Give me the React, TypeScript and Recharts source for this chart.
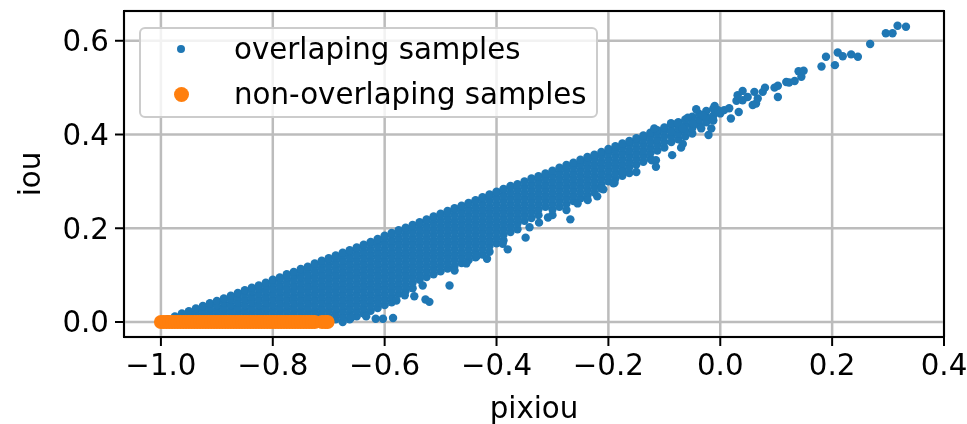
import { ScatterChart, Scatter, XAxis, YAxis, CartesianGrid, ReferenceArea, Legend } from "recharts";

const BLUE = "#1f77b4";
const ORANGE = "#ff7f0e";

const xTicks = [-1, -0.8, -0.6, -0.4, -0.2, 0, 0.2, 0.4];
const yTicks = [0, 0.2, 0.4, 0.6];
const xDomain = [-1.066, 0.4];
const yDomain = [-0.032, 0.6635];

const overlapColumns: number[][] = [
  [-0.9875, 0.006],
  [-0.975, 0, 0.012],
  [-0.9625, 0.006, 0.018],
  [-0.95, 0, 0.012, 0.023],
  [-0.9375, 0.006, 0.018, 0.029],
  [-0.925, 0, 0.012, 0.024, 0.034],
  [-0.9125, 0.006, 0.018, 0.03, 0.04],
  [-0.9, 0, 0.012, 0.024, 0.036, 0.045],
  [-0.8875, 0.006, 0.018, 0.03, 0.042, 0.05],
  [-0.875, 0, 0.012, 0.024, 0.036, 0.048, 0.056],
  [-0.8625, 0.006, 0.018, 0.03, 0.042, 0.054, 0.062],
  [-0.85, 0, 0.012, 0.024, 0.036, 0.048, 0.06, 0.068],
  [-0.8375, 0.006, 0.018, 0.03, 0.042, 0.054, 0.066, 0.073],
  [-0.825, 0, 0.012, 0.024, 0.036, 0.048, 0.06, 0.072, 0.078],
  [-0.8125, 0.006, 0.018, 0.03, 0.042, 0.054, 0.066, 0.078, 0.084],
  [-0.8, 0, 0.012, 0.024, 0.036, 0.048, 0.06, 0.072, 0.084, 0.09],
  [-0.7875, 0.006, 0.018, 0.03, 0.042, 0.054, 0.066, 0.078, 0.09, 0.095],
  [-0.775, 0, 0.012, 0.024, 0.036, 0.048, 0.06, 0.072, 0.084, 0.096, 0.102],
  [-0.7625, 0.006, 0.018, 0.03, 0.042, 0.054, 0.066, 0.078, 0.09, 0.102, 0.107],
  [-0.75, 0, 0.012, 0.024, 0.036, 0.048, 0.06, 0.072, 0.084, 0.096, 0.108, 0.113],
  [-0.7375, 0.006, 0.018, 0.03, 0.042, 0.054, 0.066, 0.078, 0.09, 0.102, 0.114, 0.118],
  [-0.725, 0, 0.012, 0.024, 0.036, 0.048, 0.06, 0.072, 0.084, 0.096, 0.108, 0.12, 0.125],
  [-0.7125, 0.006, 0.018, 0.03, 0.042, 0.054, 0.066, 0.078, 0.09, 0.102, 0.114, 0.126, 0.131],
  [-0.7, 0, 0.012, 0.024, 0.036, 0.048, 0.06, 0.072, 0.084, 0.096, 0.108, 0.12, 0.132, 0.136],
  [-0.6875, 0.006, 0.018, 0.03, 0.042, 0.054, 0.066, 0.078, 0.09, 0.102, 0.114, 0.126, 0.138, 0.142],
  [-0.675, 0, 0.012, 0.024, 0.036, 0.048, 0.06, 0.072, 0.084, 0.096, 0.108, 0.12, 0.132, 0.144, 0.148],
  [-0.6625, 0.006, 0.018, 0.03, 0.042, 0.054, 0.066, 0.078, 0.09, 0.102, 0.114, 0.126, 0.138, 0.15, 0.153],
  [-0.65, 0.012, 0.024, 0.036, 0.048, 0.06, 0.072, 0.084, 0.096, 0.108, 0.12, 0.132, 0.144, 0.156, 0.159],
  [-0.6375, 0.018, 0.03, 0.042, 0.054, 0.066, 0.078, 0.09, 0.102, 0.114, 0.126, 0.138, 0.15, 0.162, 0.165],
  [-0.625, 0.024, 0.036, 0.048, 0.06, 0.072, 0.084, 0.096, 0.108, 0.12, 0.132, 0.144, 0.156, 0.168, 0.171],
  [-0.6125, 0.03, 0.042, 0.054, 0.066, 0.078, 0.09, 0.102, 0.114, 0.126, 0.138, 0.15, 0.162, 0.174, 0.177],
  [-0.6, 0.036, 0.048, 0.06, 0.072, 0.084, 0.096, 0.108, 0.12, 0.132, 0.144, 0.156, 0.168, 0.18, 0.184],
  [-0.5875, 0.042, 0.054, 0.066, 0.078, 0.09, 0.102, 0.114, 0.126, 0.138, 0.15, 0.162, 0.174, 0.186, 0.19],
  [-0.575, 0.06, 0.072, 0.084, 0.096, 0.108, 0.12, 0.132, 0.144, 0.156, 0.168, 0.18, 0.192, 0.196],
  [-0.5625, 0.066, 0.078, 0.09, 0.102, 0.114, 0.126, 0.138, 0.15, 0.162, 0.174, 0.186, 0.198, 0.201],
  [-0.55, 0.072, 0.084, 0.096, 0.108, 0.12, 0.132, 0.144, 0.156, 0.168, 0.18, 0.192, 0.204, 0.207],
  [-0.5375, 0.09, 0.102, 0.114, 0.126, 0.138, 0.15, 0.162, 0.174, 0.186, 0.198, 0.21, 0.213],
  [-0.525, 0.096, 0.108, 0.12, 0.132, 0.144, 0.156, 0.168, 0.18, 0.192, 0.204, 0.216, 0.219],
  [-0.5125, 0.102, 0.114, 0.126, 0.138, 0.15, 0.162, 0.174, 0.186, 0.198, 0.21, 0.222, 0.225],
  [-0.5, 0.108, 0.12, 0.132, 0.144, 0.156, 0.168, 0.18, 0.192, 0.204, 0.216, 0.228, 0.231],
  [-0.4875, 0.114, 0.126, 0.138, 0.15, 0.162, 0.174, 0.186, 0.198, 0.21, 0.222, 0.234, 0.237],
  [-0.475, 0.12, 0.132, 0.144, 0.156, 0.168, 0.18, 0.192, 0.204, 0.216, 0.228, 0.24, 0.243],
  [-0.4625, 0.126, 0.138, 0.15, 0.162, 0.174, 0.186, 0.198, 0.21, 0.222, 0.234, 0.246, 0.248],
  [-0.45, 0.132, 0.144, 0.156, 0.168, 0.18, 0.192, 0.204, 0.216, 0.228, 0.24, 0.252, 0.254],
  [-0.4375, 0.138, 0.15, 0.162, 0.174, 0.186, 0.198, 0.21, 0.222, 0.234, 0.246, 0.258, 0.26],
  [-0.425, 0.144, 0.156, 0.168, 0.18, 0.192, 0.204, 0.216, 0.228, 0.24, 0.252, 0.264, 0.266],
  [-0.4125, 0.15, 0.162, 0.174, 0.186, 0.198, 0.21, 0.222, 0.234, 0.246, 0.258, 0.27, 0.272],
  [-0.4, 0.168, 0.18, 0.192, 0.204, 0.216, 0.228, 0.24, 0.252, 0.264, 0.276, 0.278],
  [-0.3875, 0.174, 0.186, 0.198, 0.21, 0.222, 0.234, 0.246, 0.258, 0.27, 0.282, 0.284],
  [-0.375, 0.192, 0.204, 0.216, 0.228, 0.24, 0.252, 0.264, 0.276, 0.288, 0.29],
  [-0.3625, 0.198, 0.21, 0.222, 0.234, 0.246, 0.258, 0.27, 0.282, 0.294],
  [-0.35, 0.216, 0.228, 0.24, 0.252, 0.264, 0.276, 0.288, 0.3],
  [-0.3375, 0.222, 0.234, 0.246, 0.258, 0.27, 0.282, 0.294, 0.306],
  [-0.325, 0.228, 0.24, 0.252, 0.264, 0.276, 0.288, 0.3, 0.311],
  [-0.3125, 0.246, 0.258, 0.27, 0.282, 0.294, 0.306, 0.317],
  [-0.3, 0.228, 0.24, 0.252, 0.264, 0.276, 0.288, 0.3, 0.312, 0.323],
  [-0.2875, 0.246, 0.258, 0.27, 0.282, 0.294, 0.306, 0.318, 0.329],
  [-0.275, 0.252, 0.264, 0.276, 0.288, 0.3, 0.312, 0.324, 0.335],
  [-0.2625, 0.258, 0.27, 0.282, 0.294, 0.306, 0.318, 0.33, 0.34],
  [-0.25, 0.264, 0.276, 0.288, 0.3, 0.312, 0.324, 0.336, 0.346],
  [-0.2375, 0.27, 0.282, 0.294, 0.306, 0.318, 0.33, 0.342, 0.352],
  [-0.225, 0.276, 0.288, 0.3, 0.312, 0.324, 0.336, 0.348, 0.357],
  [-0.2125, 0.294, 0.306, 0.318, 0.33, 0.342, 0.354, 0.363],
  [-0.2, 0.3, 0.312, 0.324, 0.336, 0.348, 0.36, 0.369],
  [-0.1875, 0.306, 0.318, 0.33, 0.342, 0.354, 0.366, 0.375],
  [-0.175, 0.312, 0.324, 0.336, 0.348, 0.36, 0.372, 0.381],
  [-0.1625, 0.318, 0.33, 0.342, 0.354, 0.366, 0.378, 0.386],
  [-0.15, 0.336, 0.348, 0.36, 0.372, 0.384, 0.392],
  [-0.1375, 0.342, 0.354, 0.366, 0.378, 0.39, 0.398],
  [-0.125, 0.348, 0.36, 0.372, 0.384, 0.396, 0.404],
  [-0.1125, 0.366, 0.378, 0.39, 0.402, 0.409],
  [-0.1, 0.372, 0.384, 0.396, 0.408, 0.415],
  [-0.0875, 0.384, 0.396, 0.408, 0.42],
  [-0.075, 0.39, 0.402, 0.414, 0.426],
  [-0.0625, 0.396, 0.408, 0.42, 0.432],
  [-0.05, 0.402, 0.414, 0.426, 0.438],
  [-0.0375, 0.42, 0.432, 0.444],
  [-0.025, 0.426, 0.438, 0.45],
  [-0.0125, 0.43, 0.44, 0.455],
];

// single dots that can be told apart along the lower edge
const overlapOutliers: number[][] = [
  [-0.66, 0.009], [-0.633, 0.012], [-0.616, 0.007], [-0.603, 0.007], [-0.585, 0.0085],
  [-0.579, 0.046], [-0.564, 0.057], [-0.547, 0.055], [-0.532, 0.078], [-0.527, 0.048],
  [-0.52, 0.043], [-0.484, 0.078], [-0.475, 0.11], [-0.454, 0.125], [-0.435, 0.141],
  [-0.417, 0.135], [-0.389, 0.167], [-0.38, 0.155], [-0.348, 0.18], [-0.341, 0.202],
  [-0.324, 0.212], [-0.308, 0.223], [-0.275, 0.239], [-0.268, 0.219], [-0.255, 0.253],
  [-0.237, 0.26], [-0.22, 0.268], [-0.209, 0.283], [-0.189, 0.297],
];

// upper right tail of the cloud
const overlapTail: number[][] = [
  [-0.213, 0.285], [-0.191, 0.296], [-0.175, 0.32], [-0.15, 0.32], [-0.122, 0.345],
  [-0.118, 0.413], [-0.115, 0.345], [-0.115, 0.331], [-0.088, 0.424], [-0.088, 0.406],
  [-0.086, 0.356], [-0.076, 0.424], [-0.07, 0.372], [-0.067, 0.413], [-0.067, 0.38],
  [-0.058, 0.436], [-0.049, 0.424], [-0.043, 0.454], [-0.034, 0.413], [-0.031, 0.441],
  [-0.021, 0.399], [-0.016, 0.413], [-0.013, 0.431], [-0.01, 0.461], [-0.004, 0.452],
  [0, 0.445], [0.007, 0.452], [0.016, 0.456], [0.019, 0.434], [0.029, 0.472],
  [0.031, 0.484], [0.033, 0.448], [0.04, 0.493], [0.04, 0.473], [0.049, 0.48],
  [0.058, 0.463], [0.061, 0.491], [0.064, 0.466], [0.067, 0.477], [0.076, 0.491],
  [0.08, 0.5], [0.097, 0.5], [0.103, 0.504], [0.103, 0.48], [0.118, 0.512],
  [0.123, 0.511], [0.133, 0.514], [0.14, 0.535], [0.145, 0.523], [0.149, 0.536],
  [0.181, 0.545], [0.189, 0.566], [0.205, 0.548], [0.21, 0.575], [0.219, 0.567],
  [0.234, 0.571], [0.246, 0.566], [0.268, 0.593], [0.296, 0.616], [0.308, 0.616],
  [0.317, 0.632], [0.332, 0.63],
];

// iou is 0 for all of these
const nonOverlapX = [
  -1, -0.995, -0.99, -0.985, -0.98, -0.975, -0.97, -0.965, -0.96, -0.955, -0.95, -0.945,
  -0.94, -0.935, -0.93, -0.925, -0.92, -0.915, -0.91, -0.905, -0.9, -0.895, -0.89, -0.885,
  -0.88, -0.875, -0.87, -0.865, -0.86, -0.855, -0.85, -0.845, -0.84, -0.835, -0.83, -0.825,
  -0.82, -0.815, -0.81, -0.805, -0.8, -0.795, -0.79, -0.785, -0.78, -0.775, -0.77, -0.765,
  -0.76, -0.755, -0.75, -0.745, -0.74, -0.735, -0.73, -0.725, -0.712, -0.706, -0.702,
];

const overlapData = [
  ...overlapColumns.flatMap(([x, ...ys]) => ys.map((y) => ({ x, y }))),
  ...overlapOutliers.map(([x, y]) => ({ x, y })),
  ...overlapTail.map(([x, y]) => ({ x, y })),
];
const nonOverlapData = nonOverlapX.map((x) => ({ x, y: 0 }));

const dot = (r: number, fill: string) => (props: any) =>
  <circle cx={props.cx} cy={props.cy} r={r} fill={fill} />;

const formatTick = (v: number) => (v < 0 ? `\u2212${Math.abs(v).toFixed(1)}` : v.toFixed(1));

const FONT_SIZE = 29.3;
const tickStyle = { fill: "#000", fontSize: FONT_SIZE };
const axisStyle = { stroke: "#000", strokeWidth: 2 };

// rotated y label, centred on the plot height
const IouLabel = ({ viewBox }: any) => {
  const cy = viewBox.y + viewBox.height / 2;
  return (
    <text
      x={30}
      y={cy}
      transform={`rotate(-90 30 ${cy})`}
      textAnchor="middle"
      dominantBaseline="central"
      fill="#000"
      fontSize={FONT_SIZE}
    >
      iou
    </text>
  );
};

function LegendBox() {
  const rows = [
    { label: "overlaping samples", color: BLUE, size: 8, top: 20 },
    { label: "non-overlaping samples", color: ORANGE, size: 15, top: 65 },
  ];
  return (
    <div
      style={{
        position: "relative",
        width: 459,
        height: 91,
        boxSizing: "border-box",
        background: "rgba(255,255,255,0.8)",
        border: "2px solid #ccc",
        borderRadius: 6,
      }}
    >
      {rows.map((r) => (
        <div key={r.label}>
          <div
            style={{
              position: "absolute",
              left: 40 - r.size / 2,
              top: r.top - r.size / 2,
              width: r.size,
              height: r.size,
              borderRadius: "50%",
              background: r.color,
            }}
          />
          <div
            style={{
              position: "absolute",
              left: 93,
              top: r.top - 19,
              fontSize: FONT_SIZE,
              lineHeight: "38px",
              whiteSpace: "nowrap",
              color: "#000",
            }}
          >
            {r.label}
          </div>
        </div>
      ))}
    </div>
  );
}

export default function App() {
  return (
    <div
      style={{
        position: "absolute",
        left: 0,
        top: 0,
        width: 967,
        height: 424,
        overflow: "hidden",
        fontFamily: "'DejaVu Sans', sans-serif",
        filter: "blur(0.5px)",
      }}
    >
      <ScatterChart
        width={967}
        height={424}
        margin={{ top: 11, right: 23, bottom: 27, left: 24 }}
      >
        <CartesianGrid stroke="#bcbcbc" strokeWidth={2.5} />
        <XAxis
          type="number"
          dataKey="x"
          domain={xDomain}
          ticks={xTicks}
          interval={0}
          allowDataOverflow
          height={60}
          tickSize={9}
          tickMargin={8}
          tick={tickStyle}
          tickLine={axisStyle}
          axisLine={axisStyle}
          tickFormatter={formatTick}
          label={{ value: "pixiou", position: "insideBottom", offset: -21, fill: "#000", fontSize: FONT_SIZE }}
        />
        <YAxis
          type="number"
          dataKey="y"
          domain={yDomain}
          ticks={yTicks}
          interval={0}
          allowDataOverflow
          width={100}
          tickSize={9}
          tickMargin={6}
          tick={tickStyle}
          tickLine={axisStyle}
          axisLine={axisStyle}
          tickFormatter={formatTick}
          label={{ content: IouLabel }}
        />
        <Legend
          layout="horizontal"
          verticalAlign="middle"
          align="center"
          wrapperStyle={{ left: 139, top: 27, width: 459 }}
          content={() => <LegendBox />}
        />
        <Scatter name="overlaping samples" data={overlapData} shape={dot(4.2, BLUE)} isAnimationActive={false} />
        <Scatter name="non-overlaping samples" data={nonOverlapData} shape={dot(7, ORANGE)} isAnimationActive={false} />
        <ReferenceArea
          x1={xDomain[0]}
          x2={xDomain[1]}
          y1={yDomain[0]}
          y2={yDomain[1]}
          fill="none"
          stroke="#000"
          strokeWidth={2}
        />
      </ScatterChart>
    </div>
  );
}
